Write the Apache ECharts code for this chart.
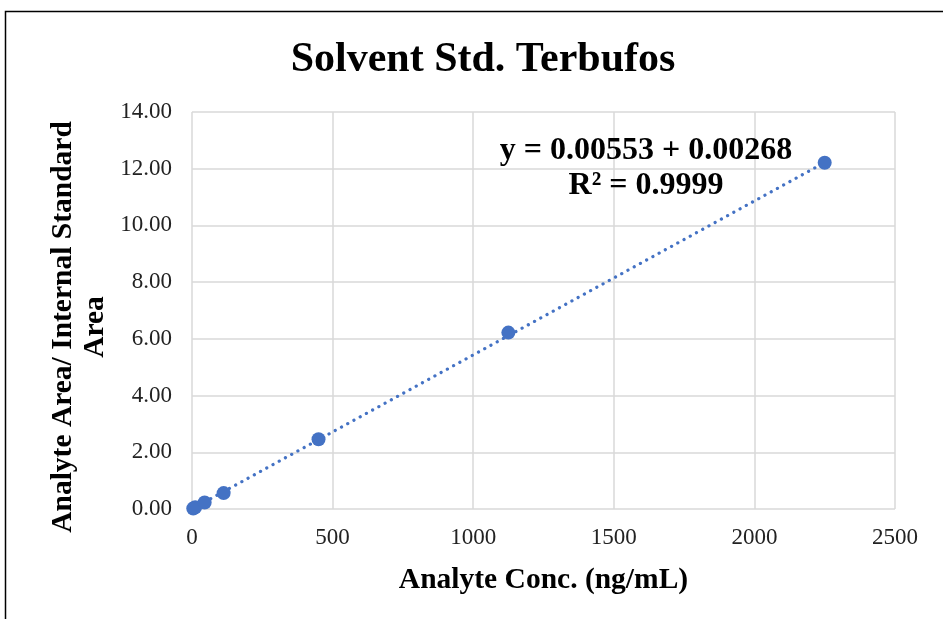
<!DOCTYPE html>
<html>
<head>
<meta charset="utf-8">
<title>Solvent Std. Terbufos</title>
<script src="https://cdn.jsdelivr.net/npm/echarts@6/dist/echarts.min.js"></script>
<style>
  html, body { margin: 0; padding: 0; background: #fff; }
  #chart { width: 943px; height: 619px; }
</style>
</head>
<body>
<div id="chart"></div>
<script>
// calibration points
var concValues = [4.5, 11.25, 45, 112.5, 450, 1125, 2250];
var ratioValues = [0.02, 0.06, 0.23, 0.56, 2.46, 6.22, 12.21];
// trendline end points (linear fit)
var trendX = [0, 2250];
var trendY = [0.003, 12.22];

var serif = '"Liberation Serif", "DejaVu Serif", serif';
var blue = '#4472C4';

var myChart = echarts.init(document.getElementById('chart'));

var option = {
    animation: false,
    backgroundColor: '#fff',
    title: {
        text: 'Solvent Std. Terbufos',
        left: 478,
        top: 34,
        textAlign: 'center',
        textStyle: { fontFamily: serif, fontSize: 42, fontWeight: 'bold', color: '#000' }
    },
    graphic: [
        // chart frame (right and bottom edges fall outside the picture)
        {
            type: 'polyline',
            shape: { points: [[5.5, 620], [5.5, 11.5], [945, 11.5]] },
            style: { stroke: '#000', lineWidth: 1.5, fill: null },
            silent: true
        },
        {
            type: 'text',
            style: {
                text: 'y = 0.00553 + 0.00268\nR² = 0.9999',
                x: 646, y: 133,
                textAlign: 'center',
                font: 'bold 32px ' + serif,
                lineHeight: 35,
                fill: '#000'
            },
            z: 10,
            silent: true
        },
        // y axis title, sits a little below the plot centre in the original
        {
            type: 'text',
            x: 79, y: 327,
            rotation: Math.PI / 2,
            style: {
                text: 'Analyte Area/ Internal Standard\nArea',
                textAlign: 'center',
                textVerticalAlign: 'middle',
                font: 'bold 29.5px ' + serif,
                lineHeight: 32,
                fill: '#000'
            },
            silent: true
        }
    ],
    grid: { left: 192, right: 48, top: 112, bottom: 110 },
    xAxis: {
        type: 'value',
        min: 0, max: 2500, interval: 500,
        name: 'Analyte Conc. (ng/mL)',
        nameLocation: 'middle',
        nameGap: 56,
        nameTextStyle: { fontFamily: serif, fontSize: 29.5, fontWeight: 'bold', color: '#000' },
        axisLine: { show: false },
        axisTick: { show: false },
        axisLabel: {
            fontFamily: serif, fontSize: 23, color: '#222', margin: 17,
            formatter: function (v) { return String(v); }
        },
        splitLine: { show: true, lineStyle: { color: '#d9d9d9', width: 1.5 } }
    },
    yAxis: {
        type: 'value',
        min: 0, max: 14, interval: 2,
        axisLine: { show: false },
        axisTick: { show: false },
        axisLabel: {
            fontFamily: serif, fontSize: 23, color: '#222', margin: 20,
            formatter: function (v) { return v.toFixed(2); }
        },
        splitLine: { show: true, lineStyle: { color: '#d9d9d9', width: 1.5 } }
    },
    series: [
        {
            type: 'line',
            data: trendX.map(function (x, i) { return [x, trendY[i]]; }),
            symbol: 'none',
            z: 2,
            lineStyle: { color: blue, width: 3.2, type: [0.1, 7], cap: 'round' }
        },
        {
            type: 'scatter',
            data: concValues.map(function (x, i) { return [x, ratioValues[i]]; }),
            symbolSize: 14,
            z: 3,
            itemStyle: { color: blue, opacity: 1 }
        }
    ]
};
myChart.setOption(option);
</script>
</body>
</html>
